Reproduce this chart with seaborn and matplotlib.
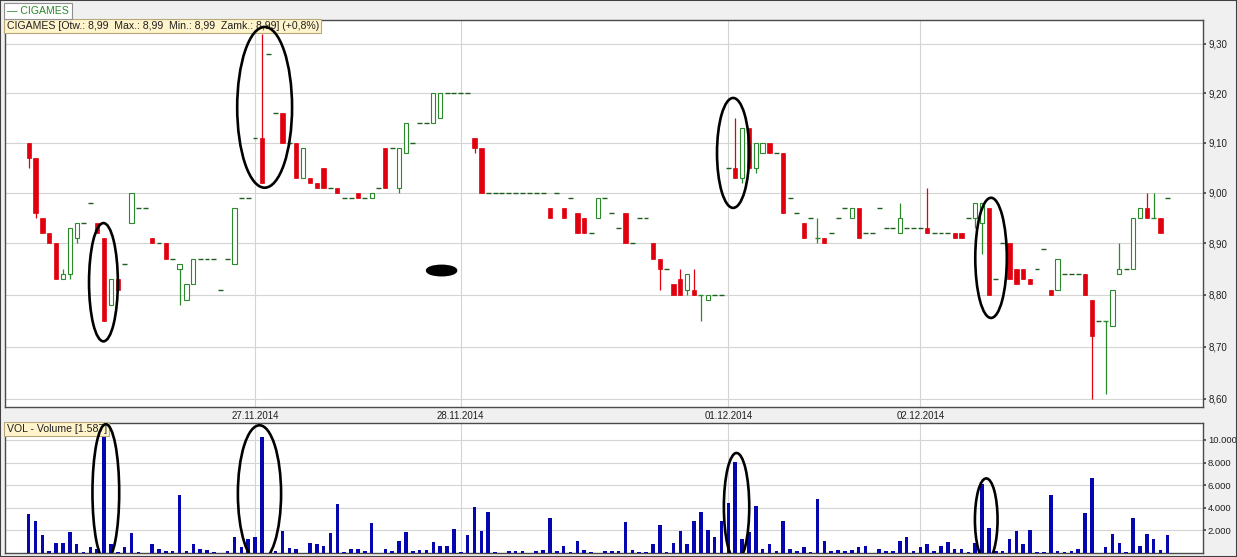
import numpy as np
import pandas as pd
import matplotlib
matplotlib.use("Agg")
import matplotlib.pyplot as plt
import seaborn as sns
from matplotlib.patches import Ellipse, Rectangle
from matplotlib.ticker import FixedLocator, NullLocator, FuncFormatter

sns.set_theme(style="white")
plt.rcParams['font.family'] = ['Liberation Sans', 'DejaVu Sans']

# --- DATA (intraday bars, slot = bar number) ---
candle_slot = [0, 1, 2, 3, 4, 5, 6, 7, 10, 11, 12, 13, 15, 18, 20, 22, 23, 24, 30, 34,
               37, 39, 40, 41, 42, 43, 45, 48, 50, 52, 54, 55, 59, 60, 65, 66, 76, 78, 80, 81,
               83, 87, 91, 92, 94, 95, 96, 97, 98, 99, 103, 104, 105, 106, 107, 108, 110, 113, 115, 116,
               120, 121, 127, 131, 135, 136, 138, 139, 140, 143, 144, 145, 146, 149, 150, 154, 155, 157, 158, 159,
               161, 162, 163, 164, 165]
candle_open = [9.10, 9.07, 8.95, 8.92, 8.90, 8.83, 8.84, 8.91, 8.94, 8.91, 8.78, 8.83, 8.94, 8.91, 8.90, 8.85, 8.79, 8.82, 8.86, 9.11,
               9.16, 9.10, 9.03, 9.03, 9.02, 9.05, 9.01, 9.00, 8.99, 9.09, 9.01, 9.08, 9.14, 9.15, 9.11, 9.09, 8.97, 8.97, 8.96, 8.95,
               8.95, 8.96, 8.90, 8.87, 8.82, 8.83, 8.81, 8.81, 8.80, 8.79, 9.05, 9.03, 9.13, 9.05, 9.08, 9.10, 9.08, 8.94, 8.91, 8.91,
               8.95, 8.97, 8.92, 8.93, 8.92, 8.92, 8.95, 8.94, 8.97, 8.90, 8.85, 8.85, 8.83, 8.81, 8.81, 8.84, 8.79, 8.75, 8.74, 8.84,
               8.85, 8.95, 8.97, 8.95, 8.95]
candle_high = [9.10, 9.07, 8.95, 8.92, 8.90, 8.85, 8.93, 8.94, 8.94, 8.91, 8.83, 8.83, 9.00, 8.91, 8.90, 8.86, 8.82, 8.87, 8.97, 9.32,
               9.16, 9.10, 9.09, 9.03, 9.02, 9.05, 9.01, 9.00, 9.00, 9.09, 9.09, 9.14, 9.20, 9.20, 9.11, 9.09, 8.97, 8.97, 8.96, 8.95,
               8.99, 8.96, 8.90, 8.87, 8.82, 8.85, 8.84, 8.85, 8.80, 8.80, 9.15, 9.13, 9.13, 9.10, 9.10, 9.10, 9.08, 8.94, 8.95, 8.91,
               8.97, 8.97, 8.98, 9.01, 8.92, 8.92, 8.98, 8.98, 8.97, 8.90, 8.85, 8.85, 8.83, 8.81, 8.87, 8.84, 8.79, 8.75, 8.81, 8.90,
               8.95, 8.97, 9.00, 9.00, 8.95]
candle_low = [9.05, 8.95, 8.92, 8.90, 8.83, 8.83, 8.83, 8.90, 8.92, 8.75, 8.78, 8.81, 8.94, 8.90, 8.87, 8.78, 8.79, 8.82, 8.86, 9.02,
              9.10, 9.03, 9.03, 9.02, 9.01, 9.01, 9.00, 8.99, 8.99, 9.01, 9.00, 9.08, 9.14, 9.15, 9.08, 9.00, 8.95, 8.95, 8.92, 8.92,
              8.95, 8.90, 8.87, 8.81, 8.80, 8.80, 8.80, 8.80, 8.75, 8.79, 9.03, 9.02, 9.05, 9.04, 9.08, 9.08, 8.96, 8.91, 8.90, 8.90,
              8.95, 8.91, 8.92, 8.92, 8.91, 8.91, 8.93, 8.88, 8.80, 8.83, 8.82, 8.83, 8.82, 8.80, 8.81, 8.80, 8.60, 8.61, 8.74, 8.84,
              8.85, 8.95, 8.95, 8.95, 8.92]
candle_close = [9.07, 8.96, 8.92, 8.90, 8.83, 8.84, 8.93, 8.94, 8.92, 8.75, 8.83, 8.81, 9.00, 8.90, 8.87, 8.86, 8.82, 8.87, 8.97, 9.02,
                9.10, 9.03, 9.09, 9.02, 9.01, 9.01, 9.00, 8.99, 9.00, 9.01, 9.09, 9.14, 9.20, 9.20, 9.09, 9.00, 8.95, 8.95, 8.92, 8.92,
                8.99, 8.90, 8.87, 8.85, 8.80, 8.80, 8.84, 8.80, 8.80, 8.80, 9.03, 9.13, 9.05, 9.10, 9.10, 9.08, 8.96, 8.91, 8.91, 8.90,
                8.97, 8.91, 8.95, 8.92, 8.91, 8.91, 8.98, 8.98, 8.80, 8.83, 8.82, 8.83, 8.82, 8.80, 8.87, 8.80, 8.72, 8.75, 8.81, 8.85,
                8.95, 8.97, 8.95, 8.95, 8.92]

# bars with a single price (open = high = low = close)
flat_slot = [8, 9, 14, 16, 17, 19, 21, 25, 26, 27, 28, 29, 31, 32, 33, 35, 36, 38, 44, 46,
             47, 49, 51, 53, 56, 57, 58, 61, 62, 63, 64, 67, 68, 69, 70, 71, 72, 73, 74, 75,
             77, 79, 82, 84, 85, 86, 88, 89, 90, 93, 100, 101, 102, 109, 111, 112, 114, 117, 118, 119,
             122, 123, 124, 125, 126, 128, 129, 130, 132, 133, 134, 137, 141, 142, 147, 148, 151, 152, 153, 156,
             160, 166]
flat_price = [8.94, 8.98, 8.86, 8.97, 8.97, 8.90, 8.87, 8.87, 8.87, 8.87, 8.81, 8.87, 8.99, 8.99, 9.11, 9.28, 9.16, 9.10, 9.01, 8.99,
              8.99, 8.99, 9.01, 9.09, 9.10, 9.14, 9.14, 9.20, 9.20, 9.20, 9.20, 9.00, 9.00, 9.00, 9.00, 9.00, 9.00, 9.00, 9.00, 9.00,
              9.00, 8.99, 8.92, 8.99, 8.96, 8.93, 8.90, 8.95, 8.95, 8.85, 8.80, 8.80, 9.05, 9.08, 8.99, 8.96, 8.95, 8.92, 8.95, 8.97,
              8.92, 8.92, 8.97, 8.93, 8.93, 8.93, 8.93, 8.93, 8.92, 8.92, 8.92, 8.95, 8.83, 8.90, 8.85, 8.89, 8.84, 8.84, 8.84, 8.75,
              8.85, 8.99]

volume = [3430, 2830, 1550, 220, 910, 910, 1900, 770, 100, 500, 330, 10300, 830, 100, 500, 1780, 100, 30, 830, 390,
          160, 220, 5170, 220, 830, 390, 300, 100, 30, 220, 1460, 500, 1260, 1460, 10250, 30, 220, 1960, 480, 390,
          30, 910, 770, 590, 1780, 4300, 100, 390, 390, 160, 2650, 30, 390, 220, 1090, 1900, 220, 300, 300, 1000,
          590, 590, 2160, 100, 1600, 4040, 1960, 3610, 100, 30, 220, 160, 220, 30, 160, 300, 3120, 220, 590, 100,
          1090, 300, 100, 30, 160, 160, 160, 2740, 300, 100, 100, 770, 2500, 100, 910, 1960, 770, 2830, 3610, 2070,
          1460, 2830, 4390, 8040, 1260, 1900, 4160, 390, 830, 220, 2830, 390, 160, 500, 100, 4740, 1030, 220, 300, 220,
          300, 500, 590, 30, 390, 220, 220, 1030, 1380, 220, 500, 830, 220, 650, 1000, 390, 390, 100, 910, 6100,
          2250, 220, 220, 1260, 1960, 830, 2040, 100, 100, 5170, 220, 100, 220, 390, 3550, 6650, 30, 500, 1700,
          910, 100, 3090, 590, 1700, 1260, 300, 1600]
volume_slot = list(range(len(volume)))

date_slot = [33, 63, 102, 130]
date_label = ["27.11.2014", "28.11.2014", "01.12.2014", "02.12.2014"]
price_ticks = [8.60, 8.70, 8.80, 8.90, 9.00, 9.10, 9.20, 9.30]
volume_ticks = [2000, 4000, 6000, 8000, 10000]

# hand-drawn highlight rings: (centre slot, width in slots, low, high)
price_rings = [(10.9, 4.2, 8.71, 8.94), (34.4, 8.0, 9.01, 9.335),
               (102.7, 4.7, 8.97, 9.19), (140.3, 4.6, 8.755, 8.99)]
volume_rings = [(11.25, 3.9, -700, 11400), (33.65, 6.3, -800, 11300),
                (103.2, 3.7, -700, 8850), (139.6, 3.3, -700, 6600)]

RED = '#e0000e'
GREEN = '#2b8a2b'
BLUE = '#0606b0'
GRID = '#d4d4d4'
SPINE = '#4a4a4a'

W, H = 1237, 557
fig = plt.figure(figsize=(W / 100, H / 100), dpi=100, facecolor='#f0f0f0')
ax = fig.add_axes([5 / W, 1 - 406.7 / H, 1198 / W, 386.7 / H])
axv = fig.add_axes([5 / W, 1 - 553 / H, 1198 / W, (553 - 422.7) / H], sharex=ax)

# --- CANDLES ---
s = np.array(candle_slot)
o = np.array(candle_open)
h = np.array(candle_high)
l = np.array(candle_low)
c = np.array(candle_close)
assert len(s) == len(o) == len(h) == len(l) == len(c)
up = c >= o
col = np.where(up, GREEN, RED)
ax.vlines(s, l, h, colors=col, lw=0.9, zorder=2)
body = np.abs(c - o)
m_up = up & (body > 0)
m_dn = ~up
ax.bar(s[m_up], body[m_up], bottom=o[m_up], width=0.62, facecolor='white',
       edgecolor=GREEN, lw=0.8, zorder=3)
ax.bar(s[m_dn], body[m_dn], bottom=c[m_dn], width=0.62, facecolor=RED,
       edgecolor=RED, lw=0.5, zorder=3)
m_doji = body == 0
ax.hlines(o[m_doji], s[m_doji] - 0.36, s[m_doji] + 0.36, colors=GREEN, lw=1.0, zorder=3)
fs = np.array(flat_slot)
ax.hlines(flat_price, fs - 0.36, fs + 0.36, colors='#1e5e1e', lw=1.0, zorder=3)

ax.set_yscale('log')
ax.set_ylim(8.5854, 9.3493)
ax.yaxis.set_major_locator(FixedLocator(price_ticks))
ax.yaxis.set_minor_locator(NullLocator())
ax.yaxis.set_major_formatter(FuncFormatter(lambda v, p: f"{v:.2f}".replace('.', ',')))
ax.yaxis.tick_right()
ax.tick_params(axis='y', length=2.5, pad=1.5, labelsize=7, color=SPINE, labelcolor='#202020')
ax.set_xticks(date_slot, date_label)
ax.tick_params(axis='x', length=0, pad=3, labelsize=7, labelcolor='#202020')
ax.grid(True, color=GRID, lw=0.8)
ax.set_xlim(-3.45, 171.2)

# --- VOLUME ---
vol_df = pd.DataFrame({'slot': volume_slot, 'volume': volume})
sns.barplot(data=vol_df, x='slot', y='volume', native_scale=True, width=0.52,
            color=BLUE, saturation=1, errorbar=None, linewidth=0, ax=axv, zorder=3)
axv.set_xlabel('')
axv.set_ylabel('')
axv.set_ylim(0, 11530)
axv.set_yticks(volume_ticks)
axv.yaxis.set_major_formatter(FuncFormatter(lambda v, p: f"{int(v):,}".replace(',', '.')))
axv.yaxis.tick_right()
axv.tick_params(axis='y', length=2.5, pad=1, labelsize=6.8, color=SPINE, labelcolor='#202020')
axv.tick_params(axis='x', length=0, labelbottom=False)
axv.grid(True, color=GRID, lw=0.8)
axv.set_xlim(-3.45, 171.2)

for a in (ax, axv):
    a.set_facecolor('white')
    a.set_axisbelow(True)
    for sp in a.spines.values():
        sp.set_color(SPINE)
        sp.set_linewidth(1.0)
        sp.set_visible(True)

# --- LABELS ---
ax.text(0.0015, 0.997, "CIGAMES [Otw.: 8,99  Max.: 8,99  Min.: 8,99  Zamk.: 8,99] (+0,8%)",
        transform=ax.transAxes, ha='left', va='top', fontsize=7.6, color='#202020', zorder=5,
        bbox=dict(boxstyle='square,pad=0.22', fc='#fff4cc', ec='#b8a878', lw=0.8))
axv.text(0.0015, 0.99, "VOL - Volume [1.587]", transform=axv.transAxes, ha='left', va='top',
         fontsize=7.6, color='#202020', zorder=5,
         bbox=dict(boxstyle='square,pad=0.22', fc='#fff4cc', ec='#b8a878', lw=0.8))
fig.text(7 / W, 1 - 11 / H, "\u2014 CIGAMES", ha='left', va='center', fontsize=7.6, color=GREEN,
         bbox=dict(boxstyle='square,pad=0.25', fc='white', ec='#909090', lw=0.8))
fig.add_artist(Rectangle((0, 0), 1, 1, transform=fig.transFigure, fill=False,
                         ec='#404040', lw=1.5))

# --- HIGHLIGHT RINGS ---
def ring(a, xc, wslots, lo, hi, filled=False):
    inv = a.transAxes.inverted()
    x0, y0 = inv.transform(a.transData.transform((xc - wslots / 2, lo)))
    x1, y1 = inv.transform(a.transData.transform((xc + wslots / 2, hi)))
    e = Ellipse(((x0 + x1) / 2, (y0 + y1) / 2), x1 - x0, y1 - y0, transform=a.transAxes,
                fill=filled, fc='black', ec='black', lw=1.9, zorder=6)
    a.add_patch(e)

for xc, wd, lo, hi in price_rings:
    ring(ax, xc, wd, lo, hi)
for xc, wd, lo, hi in volume_rings:
    ring(axv, xc, wd, lo, hi)
ring(ax, 60.2, 4.2, 8.838, 8.856, filled=True)

fig.savefig('out.png', dpi=100, facecolor=fig.get_facecolor())
